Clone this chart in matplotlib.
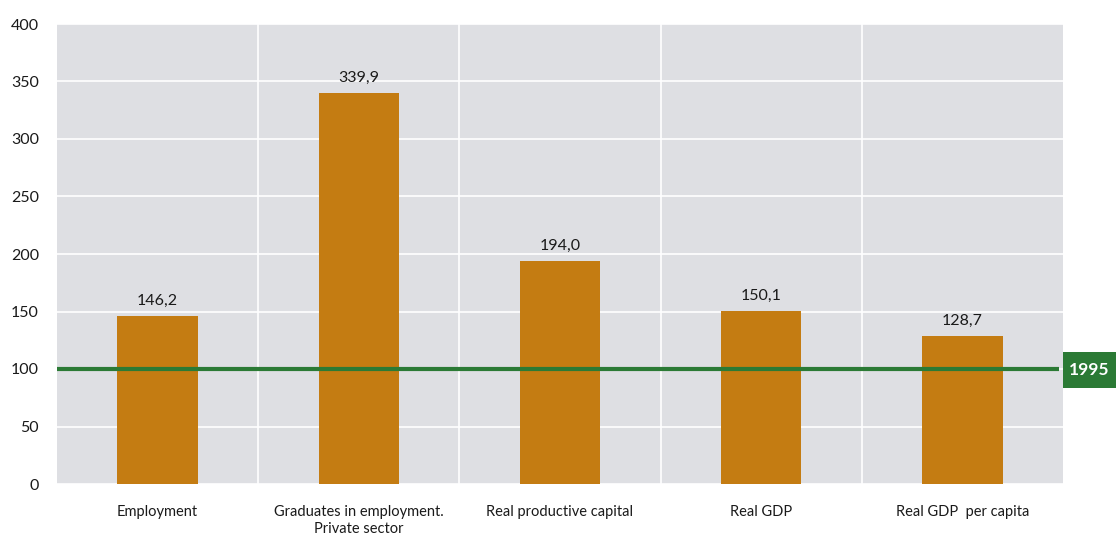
import matplotlib.pyplot as plt
from matplotlib.patches import Rectangle
import numpy as np

categories = ["Employment", "Graduates in employment.\nPrivate sector",
              "Real productive capital", "Real GDP", "Real GDP  per capita"]
values = [146.2, 339.9, 194.0, 150.1, 128.7]
base_level = 100
base_label = "1995"
yticks = [0, 50, 100, 150, 200, 250, 300, 350, 400]

plt.rcParams['font.family'] = ['Lato', 'DejaVu Sans']

W, H = 1116, 537
fig = plt.figure(figsize=(W / 100, H / 100), dpi=100)
ax = fig.add_axes([57 / W, 1 - 484 / H, 1006 / W, 460 / H])
ax.set_facecolor('#dedfe3')

x = np.arange(len(categories))
ax.bar(x, values, width=0.4, color='#c47c12', zorder=3)
for xi, v in zip(x, values):
    ax.text(xi, v + 7, f"{v:.1f}".replace('.', ','), ha='center', va='bottom',
            fontsize=11.5, color='#1a1a1a', zorder=4)

ax.set_xlim(-0.5, len(categories) - 0.5)
ax.set_ylim(0, 400)
ax.set_yticks(yticks)
ax.set_xticks(x)
ax.set_xticklabels(categories, fontsize=10.5, linespacing=1.3)
ax.tick_params(axis='both', length=0, colors='#1a1a1a')
ax.tick_params(axis='y', labelsize=11.5, pad=13)
ax.tick_params(axis='x', pad=15)

# white grid: horizontal at ticks, vertical between categories
ax.yaxis.grid(True, color='white', linewidth=1.2, zorder=0)
for b in x[:-1] + 0.5:
    ax.axvline(b, color='white', linewidth=1.2, zorder=0)
ax.set_axisbelow(True)
for s in ax.spines.values():
    s.set_visible(False)

# base-year reference line with its tag at the right edge
ax.plot([-0.5, len(categories) - 0.52], [base_level, base_level],
        color='#2b7a35', linewidth=3, zorder=5, solid_capstyle='butt')
fig.patches.append(Rectangle((1063 / W, 1 - 388 / H), 53 / W, 36 / H,
                             transform=fig.transFigure, fc='#2b7a35', ec='none'))
fig.text(1089.5 / W, 1 - 370 / H, base_label, ha='center', va='center',
         fontsize=12.5, fontweight='bold', color='white')

fig.savefig('out.png', dpi=100)
